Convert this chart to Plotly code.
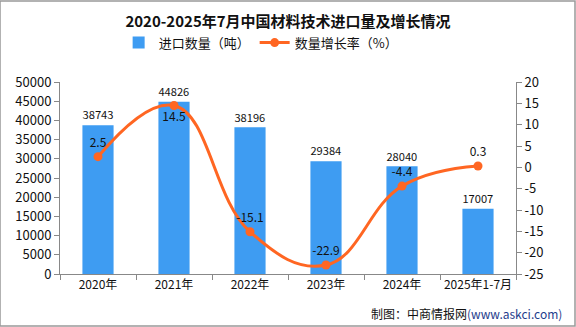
import plotly.graph_objects as go

categories = ["2020年", "2021年", "2022年", "2023年", "2024年", "2025年1-7月"]
import_qty = [38743, 44826, 38196, 29384, 28040, 17007]
growth = [2.5, 14.5, -15.1, -22.9, -4.4, 0.3]
growth_label_pos = ["top center", "bottom center", "top center", "top center", "top center", "top center"]
left_ticks = [0, 5000, 10000, 15000, 20000, 25000, 30000, 35000, 40000, 45000, 50000]
right_ticks = [-25, -20, -15, -10, -5, 0, 5, 10, 15, 20]

FONT = "Noto Sans CJK SC"
BLUE = "#3E9CF2"
ORANGE = "#FF6622"

fig = go.Figure()
fig.add_trace(go.Bar(
    x=categories, y=import_qty, name="进口数量（吨）",
    marker=dict(color=BLUE, line=dict(width=0)), width=0.41,
    text=[str(v) for v in import_qty], textposition="outside",
    textfont=dict(size=12, color="#111", family=FONT), cliponaxis=False,
))
fig.add_trace(go.Scatter(
    x=categories, y=growth, name="数量增长率（%）", yaxis="y2",
    mode="lines+markers+text", line=dict(color=ORANGE, width=3, shape="spline", smoothing=1.2),
    marker=dict(size=9, color=ORANGE),
    text=[str(v) for v in growth], textposition=growth_label_pos,
    textfont=dict(size=12, color="#111", family=FONT), cliponaxis=False,
))

fig.update_layout(
    width=576, height=327,
    margin=dict(l=60, r=60, t=82, b=53),
    paper_bgcolor="white", plot_bgcolor="white",
    font=dict(family=FONT, size=12, color="#111"),
    title=dict(text="<b>2020-2025年7月中国材料技术进口量及增长情况</b>", x=0.5, xanchor="center",
               y=0.935, yanchor="middle", font=dict(size=15, color="#111", family=FONT)),
    showlegend=True,
    legend=dict(orientation="h", x=0.44, xanchor="center", y=1.205, yanchor="middle",
                font=dict(size=13, family=FONT), itemwidth=30, bgcolor="rgba(0,0,0,0)"),
    xaxis=dict(type="category", showline=True, linecolor="#888", linewidth=1,
               ticks="outside", tickson="boundaries", ticklen=5, tickcolor="#888",
               tickangle=0, tickfont=dict(size=12, family=FONT), showgrid=False),
    yaxis=dict(range=[0, 50000], tickvals=left_ticks, ticktext=[str(v) for v in left_ticks],
               showline=True, linecolor="#888",
               ticks="outside", ticklen=5, tickcolor="#888", showgrid=False, zeroline=False,
               tickfont=dict(size=13, family=FONT)),
    yaxis2=dict(range=[-25, 20], tickvals=right_ticks, ticktext=[str(v) for v in right_ticks],
                overlaying="y", side="right",
                showline=True, linecolor="#888", ticks="outside", ticklen=5, tickcolor="#888",
                showgrid=False, zeroline=False, tickfont=dict(size=13, family=FONT)),
    shapes=[dict(type="rect", xref="paper", yref="paper", x0=-60/456, x1=1+59/456,
                 y0=-52/192, y1=1+81/192, line=dict(color="#999", width=1.5))],
    annotations=[dict(text="制图：中商情报网<span style='color:#1F3D8C'>(www.askci.com)</span>",
                      xref="paper", yref="paper", x=1 + 48/456, xanchor="right",
                      y=-39/192, yanchor="middle", showarrow=False,
                      font=dict(size=12, family=FONT, color="#111"))],
)

fig.write_html("out.html")
